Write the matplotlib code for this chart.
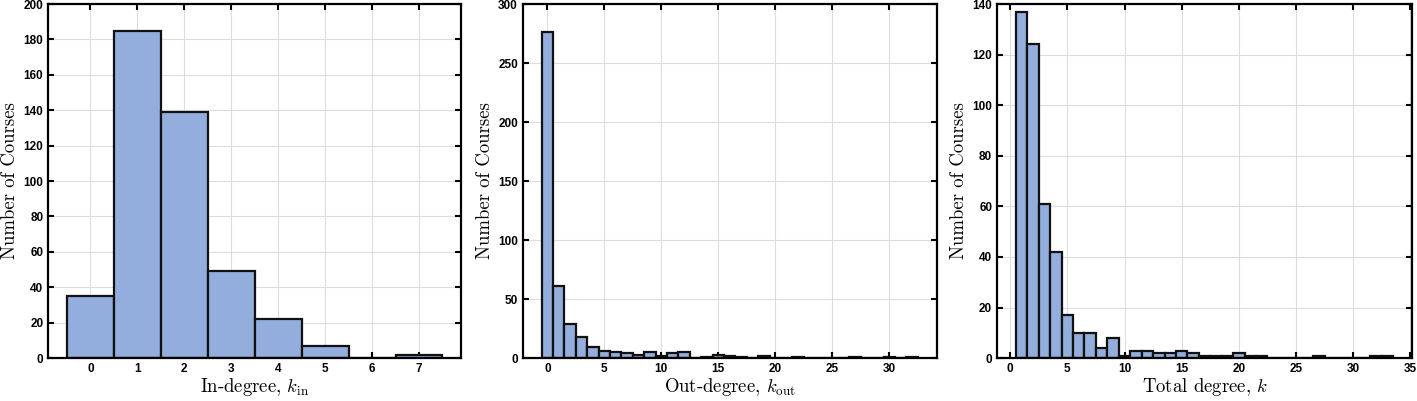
import matplotlib
matplotlib.use("Agg")
import matplotlib.pyplot as plt

# degree values and course counts
k_in = [0, 1, 2, 3, 4, 5, 6, 7]
n_in = [35, 185, 139, 49, 22, 7, 0, 2]

k_out = list(range(0, 33))
n_out = [276, 61, 29, 18, 9, 6, 5, 4, 3, 5, 2, 4, 5, 0, 1, 3, 2, 1, 0, 2,
         0, 0, 1, 0, 0, 0, 0, 1, 0, 0, 1, 0, 1]

k_tot = list(range(1, 34))
n_tot = [137, 124, 61, 42, 17, 10, 10, 4, 8, 1, 3, 3, 2, 2, 3, 2, 1, 1, 1, 2,
         1, 1, 0, 0, 0, 0, 1, 0, 0, 0, 0, 1, 1]

plt.rcParams['mathtext.fontset'] = 'cm'
plt.rcParams['font.family'] = 'Liberation Sans'

fig = plt.figure(figsize=(14.17, 4.01), dpi=100)
ax1 = fig.add_axes([0.034, 0.107, 0.2915, 0.883])
ax2 = fig.add_axes([0.369, 0.107, 0.292, 0.883])
ax3 = fig.add_axes([0.7036, 0.107, 0.293, 0.883])

panels = [
    (ax1, k_in, n_in, r"In-degree, $k_{\rm in}$", 200, 20, [0, 1, 2, 3, 4, 5, 6, 7]),
    (ax2, k_out, n_out, r"Out-degree, $k_{\rm out}$", 300, 50, [0, 5, 10, 15, 20, 25, 30]),
    (ax3, k_tot, n_tot, r"Total degree, $k$", 140, 20, [0, 5, 10, 15, 20, 25, 30, 35]),
]

for ax, k, n, xlabel, ytop, ystep, xticks in panels:
    ax.set_axisbelow(True)
    ax.bar(k, n, width=1.0, color="#93addd", edgecolor="#111111", linewidth=1.6)
    ax.set_ylim(0, ytop)
    ax.set_yticks(range(0, ytop + 1, ystep))
    ax.set_xticks(xticks)
    ax.grid(True, color="#dddddd", linewidth=0.8)
    ax.tick_params(direction="in", top=True, right=True, length=4, width=1.5,
                   labelsize=8.5)
    for lbl in ax.get_xticklabels() + ax.get_yticklabels():
        lbl.set_fontweight("bold")
    for s in ax.spines.values():
        s.set_linewidth(1.6)
    ax.set_xlabel(xlabel, fontfamily="cmr10", fontsize=13.5, labelpad=1)
    ax.set_ylabel("Number of Courses", fontfamily="cmr10", fontsize=13.5, labelpad=3)

fig.savefig("out.png", dpi=100)
